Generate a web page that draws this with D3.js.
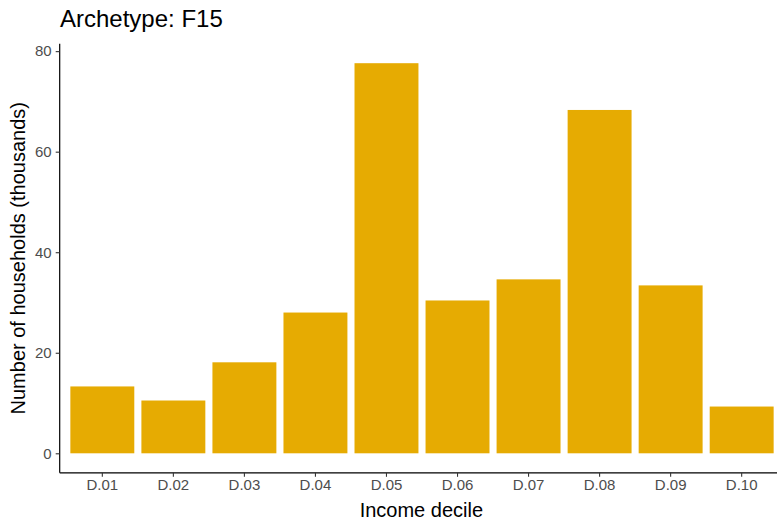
<!DOCTYPE html>
<html><head><meta charset="utf-8">
<script src="https://cdn.jsdelivr.net/npm/d3@7"></script>
<style>body{margin:0;background:#fff;} svg{display:block;font-family:"Liberation Sans",Arial,sans-serif;}</style>
</head><body><svg id="c" width="777" height="525"></svg>
<script>
const categories = ["D.01","D.02","D.03","D.04","D.05","D.06","D.07","D.08","D.09","D.10"];
const values = [13.3, 10.5, 18.1, 28.0, 77.6, 30.4, 34.6, 68.3, 33.4, 9.3];
const yTicks = [0, 20, 40, 60, 80];
const title = "Archetype: F15";
const xTitle = "Income decile";
const yTitle = "Number of households (thousands)";

(function(){
const svg = d3.select("#c");
const pL = 59.7, pR = 784.3, pT = 43.7, pB = 472.8;
const x = d3.scaleBand().domain(categories).range([pL, pR]).paddingInner(0.1).paddingOuter(0.15);
const yMax = d3.max(values);
const y = d3.scaleLinear().domain([-0.05*yMax, yMax*1.05]).range([pB, pT]);

svg.append("g").selectAll("rect").data(values).join("rect")
  .attr("x", (d,i)=>x(categories[i]))
  .attr("width", x.bandwidth())
  .attr("y", d=>y(d))
  .attr("height", d=>y(0)-y(d))
  .attr("fill", "#E6AB02");

const xa = svg.append("g").attr("transform", `translate(0,${pB})`)
  .call(d3.axisBottom(x).tickSize(4).tickPadding(3));
const ya = svg.append("g").attr("transform", `translate(${pL},0)`)
  .call(d3.axisLeft(y).tickValues(yTicks).tickSize(4).tickPadding(4));
[xa, ya].forEach(a=>{
  a.select(".domain").attr("stroke","#000").attr("stroke-width",1.2);
  a.selectAll(".tick line").attr("stroke","#333").attr("stroke-width",1.1);
  a.selectAll(".tick text").attr("fill","#4D4D4D").style("font-size","15px").style("font-family","Liberation Sans, Arial, sans-serif");
});
xa.select(".domain").attr("d", `M${pL},0H777`);
ya.select(".domain").attr("d", `M0,${pT}V${pB}`);

svg.append("text").attr("x", 60).attr("y", 27).attr("font-size", 24).attr("fill","#000").text(title);
svg.append("text").attr("x", (pL+777)/2 + 3).attr("y", 517).attr("text-anchor","middle").attr("font-size", 20).attr("fill","#000").text(xTitle);
svg.append("text").attr("transform", `translate(25,${(pT+pB)/2}) rotate(-90)`).attr("text-anchor","middle").attr("font-size", 20).attr("fill","#000").text(yTitle);
})();
</script></body></html>
